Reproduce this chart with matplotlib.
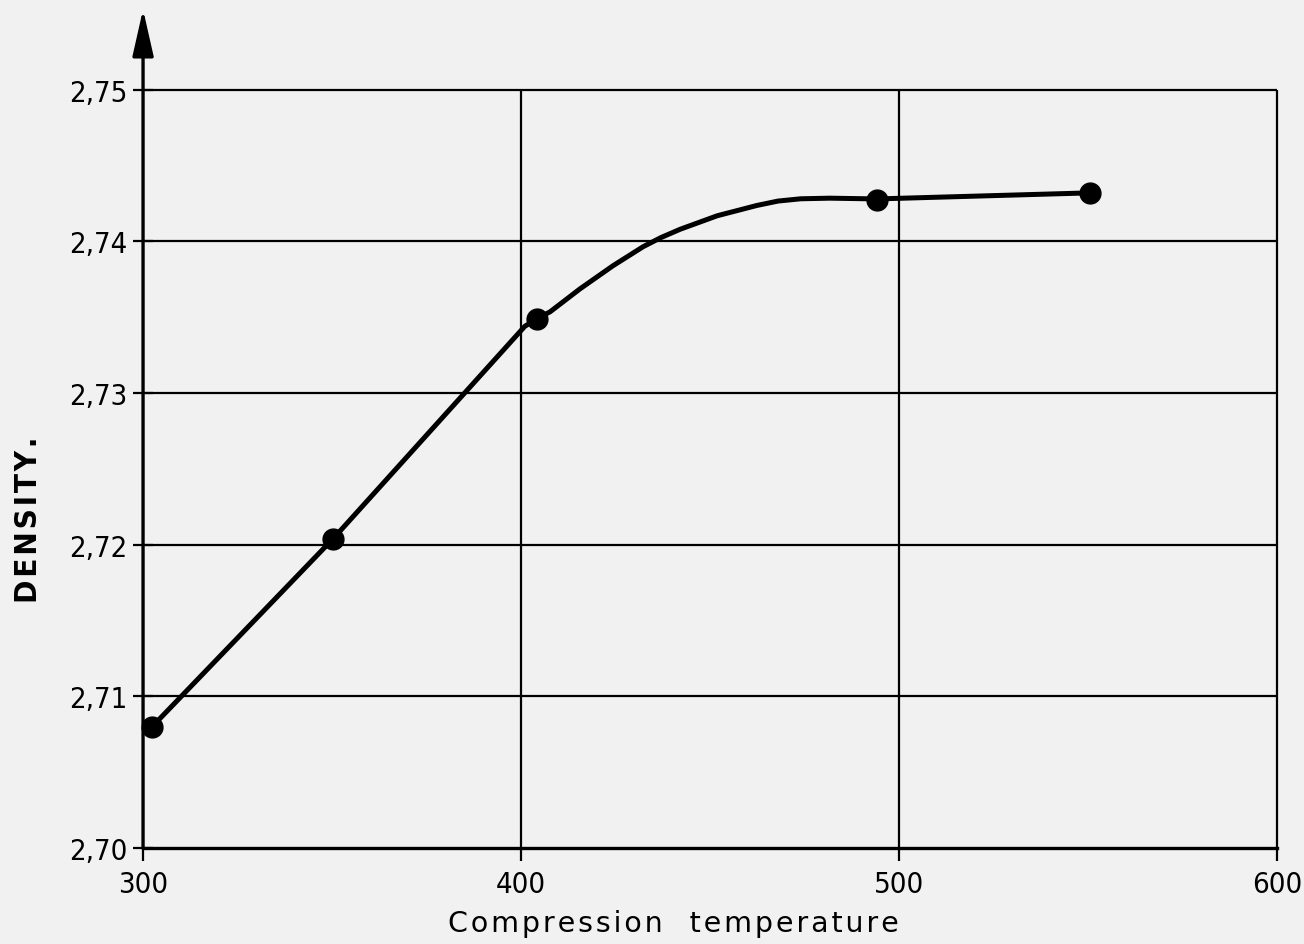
import matplotlib
matplotlib.use("Agg")
import matplotlib.pyplot as plt

# Measured density at each compression temperature
temperature = [302.4, 350.3, 404.2, 494.2, 550.5]
density = [2.7080, 2.7204, 2.7349, 2.7427, 2.7432]

# Hand-faired curve through the measurements
curve_temperature = [302.4, 350.3, 401.0, 404.2, 407.7, 415.6, 424.3, 432.3,
                     437.0, 442.1, 451.9, 462.4, 468.0, 474.0, 481.7, 494.2,
                     550.5]
curve_density = [2.7080, 2.7204, 2.73440, 2.7349, 2.73536, 2.73687, 2.73839,
                 2.73965, 2.74025, 2.74080, 2.74169, 2.74237, 2.74266,
                 2.74281, 2.74285, 2.7428, 2.7432]

x_ticks = [300, 400, 500, 600]
y_ticks = [2.70, 2.71, 2.72, 2.73, 2.74, 2.75]
y_tick_labels = ["2,70", "2,71", "2,72", "2,73", "2,74", "2,75"]

fig = plt.figure(figsize=(13.04, 9.45), dpi=100, facecolor="#f1f1f1")
ax = fig.add_axes([0.1097, 0.1016, 0.8696, 0.8794])
ax.set_facecolor("none")

ax.set_xlim(300, 600)
ax.set_ylim(2.70, 2.7548)

# Grid drawn as plain lines, stopping at the top value
ax.hlines(y_ticks[1:], 300, 600, color="black", lw=1.6, clip_on=False, zorder=1)
ax.vlines(x_ticks[1:], 2.70, 2.75, color="black", lw=1.6, clip_on=False, zorder=1)

for side in ("top", "right", "left"):
    ax.spines[side].set_visible(False)
ax.spines["bottom"].set_linewidth(2.4)

# Vertical axis with arrowhead
ax.annotate("", xy=(300, 2.7553), xytext=(300, 2.70),
            arrowprops=dict(arrowstyle="-|>,head_length=1.15,head_width=0.26",
                            lw=2.4, color="black", mutation_scale=25,
                            shrinkA=0, shrinkB=0),
            annotation_clip=False, zorder=3)

tick_font = dict(fontfamily="DejaVu Sans", fontstretch="condensed", fontsize=21)
ax.set_xticks(x_ticks)
ax.set_xticklabels([str(v) for v in x_ticks], **tick_font)
ax.set_yticks(y_ticks)
ax.set_yticklabels(y_tick_labels, **tick_font)
ax.tick_params(axis="x", direction="out", length=9, width=1.6, pad=7)
ax.tick_params(axis="y", direction="inout", length=14, width=1.6, pad=4)

ax.plot(curve_temperature, curve_density, color="black", lw=3.6,
        solid_capstyle="round", solid_joinstyle="round", zorder=4)
ax.plot(temperature, density, "o", color="black", markersize=15, zorder=5,
        clip_on=False)

hair = "\u200a"
xlabel = hair.join("Compression") + "   " + hair.join("temperature")
fig.text(0.5165, 0.007, xlabel, ha="center", va="bottom",
         fontsize=20.5, fontfamily="DejaVu Sans")
fig.text(0.0215, 0.4497, hair.join("DENSITY."), rotation=90, ha="center",
         va="center", fontsize=22.5, fontfamily="DejaVu Sans",
         fontweight="bold", fontstretch="condensed")

fig.savefig("out.png", dpi=100, facecolor=fig.get_facecolor())
